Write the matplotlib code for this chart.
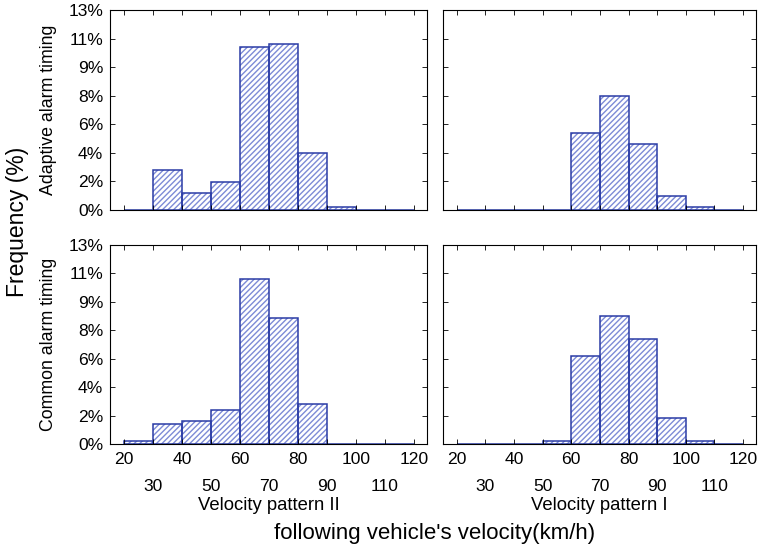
import numpy as np
import matplotlib
matplotlib.use("Agg")
import matplotlib.pyplot as plt

plt.rcParams["font.family"] = ["Liberation Sans", "DejaVu Sans"]
plt.rcParams["hatch.linewidth"] = 1.0

# ========= data =========
bin_left = [20, 30, 40, 50, 60, 70, 80, 90, 100, 110]
adaptive_II = [0.0, 2.6, 1.13, 1.84, 10.57, 10.79, 3.7, 0.17, 0.0, 0.0]
adaptive_I = [0.0, 0.0, 0.0, 0.0, 5.03, 7.41, 4.27, 0.93, 0.17, 0.0]
common_II = [0.2, 1.3, 1.48, 2.22, 10.78, 8.2, 2.6, 0.0, 0.0, 0.0]
common_I = [0.0, 0.0, 0.0, 0.2, 5.76, 8.37, 6.89, 1.67, 0.2, 0.0]

y_ticklabels = ["0%", "2%", "4%", "6%", "8%", "9%", "11%", "13%"]
x_major = [20, 40, 60, 80, 100, 120]
x_minor = [30, 50, 70, 90, 110]

EDGE = "#2b3ca6"
HATCH = "#7d8bd6"

fig = plt.figure(figsize=(7.61, 5.48), dpi=100)
W, H = 761, 548


def add_ax(l, t, r, b):
    return fig.add_axes([l / W, 1 - b / H, (r - l) / W, (b - t) / H])


ax_tl = add_ax(110, 10, 427, 210)
ax_tr = add_ax(443, 10, 756, 210)
ax_bl = add_ax(110, 245, 427, 444)
ax_br = add_ax(443, 245, 756, 444)

panels = [
    (ax_tl, adaptive_II, True, False),
    (ax_tr, adaptive_I, False, False),
    (ax_bl, common_II, True, True),
    (ax_br, common_I, False, True),
]

for ax, vals, ylab, xlab in panels:
    # hatch fill (lighter) then outline on top
    ax.bar(bin_left, vals, width=10, align="edge", facecolor="white",
           edgecolor=HATCH, hatch="//////", linewidth=0)
    ax.bar(bin_left, vals, width=10, align="edge", facecolor="none",
           edgecolor=EDGE, linewidth=1.1)
    ax.set_xlim(15.2, 124.5)
    ax.set_ylim(0, 13)
    ax.set_yticks(np.linspace(0, 13, 8))
    ax.set_xticks(x_major)
    ax.set_xticks(x_minor, minor=True)
    ax.tick_params(which="both", direction="in", top=True, right=True,
                   length=3.5, width=0.6, labelsize=12.6, pad=5)
    ax.tick_params(axis="x", which="major", pad=5.5)
    ax.tick_params(axis="x", which="minor", pad=25)
    if ylab:
        ax.set_yticklabels(y_ticklabels)
    else:
        ax.set_yticklabels([])
    if not xlab:
        ax.set_xticklabels([])
        ax.set_xticklabels([], minor=True)
    else:
        ax.set_xticklabels([str(v) for v in x_minor], minor=True)
    for s in ax.spines.values():
        s.set_linewidth(0.8)

ax_tl.set_ylabel("Adaptive alarm timing", fontsize=12.8, labelpad=8)
ax_bl.set_ylabel("Common alarm timing", fontsize=12.8, labelpad=8)
ax_bl.set_xlabel("Velocity pattern II", fontsize=13.3, labelpad=2)
ax_br.set_xlabel("Velocity pattern I", fontsize=13.3, labelpad=2)

fig.text(18 / W, 1 - 222 / H, "Frequency (%)", rotation=90, fontsize=16.5,
         ha="center", va="center")
fig.text(435 / W, 1 - 534 / H, "following vehicle's velocity(km/h)",
         fontsize=16, ha="center", va="center")

fig.savefig("out.png", dpi=100)
